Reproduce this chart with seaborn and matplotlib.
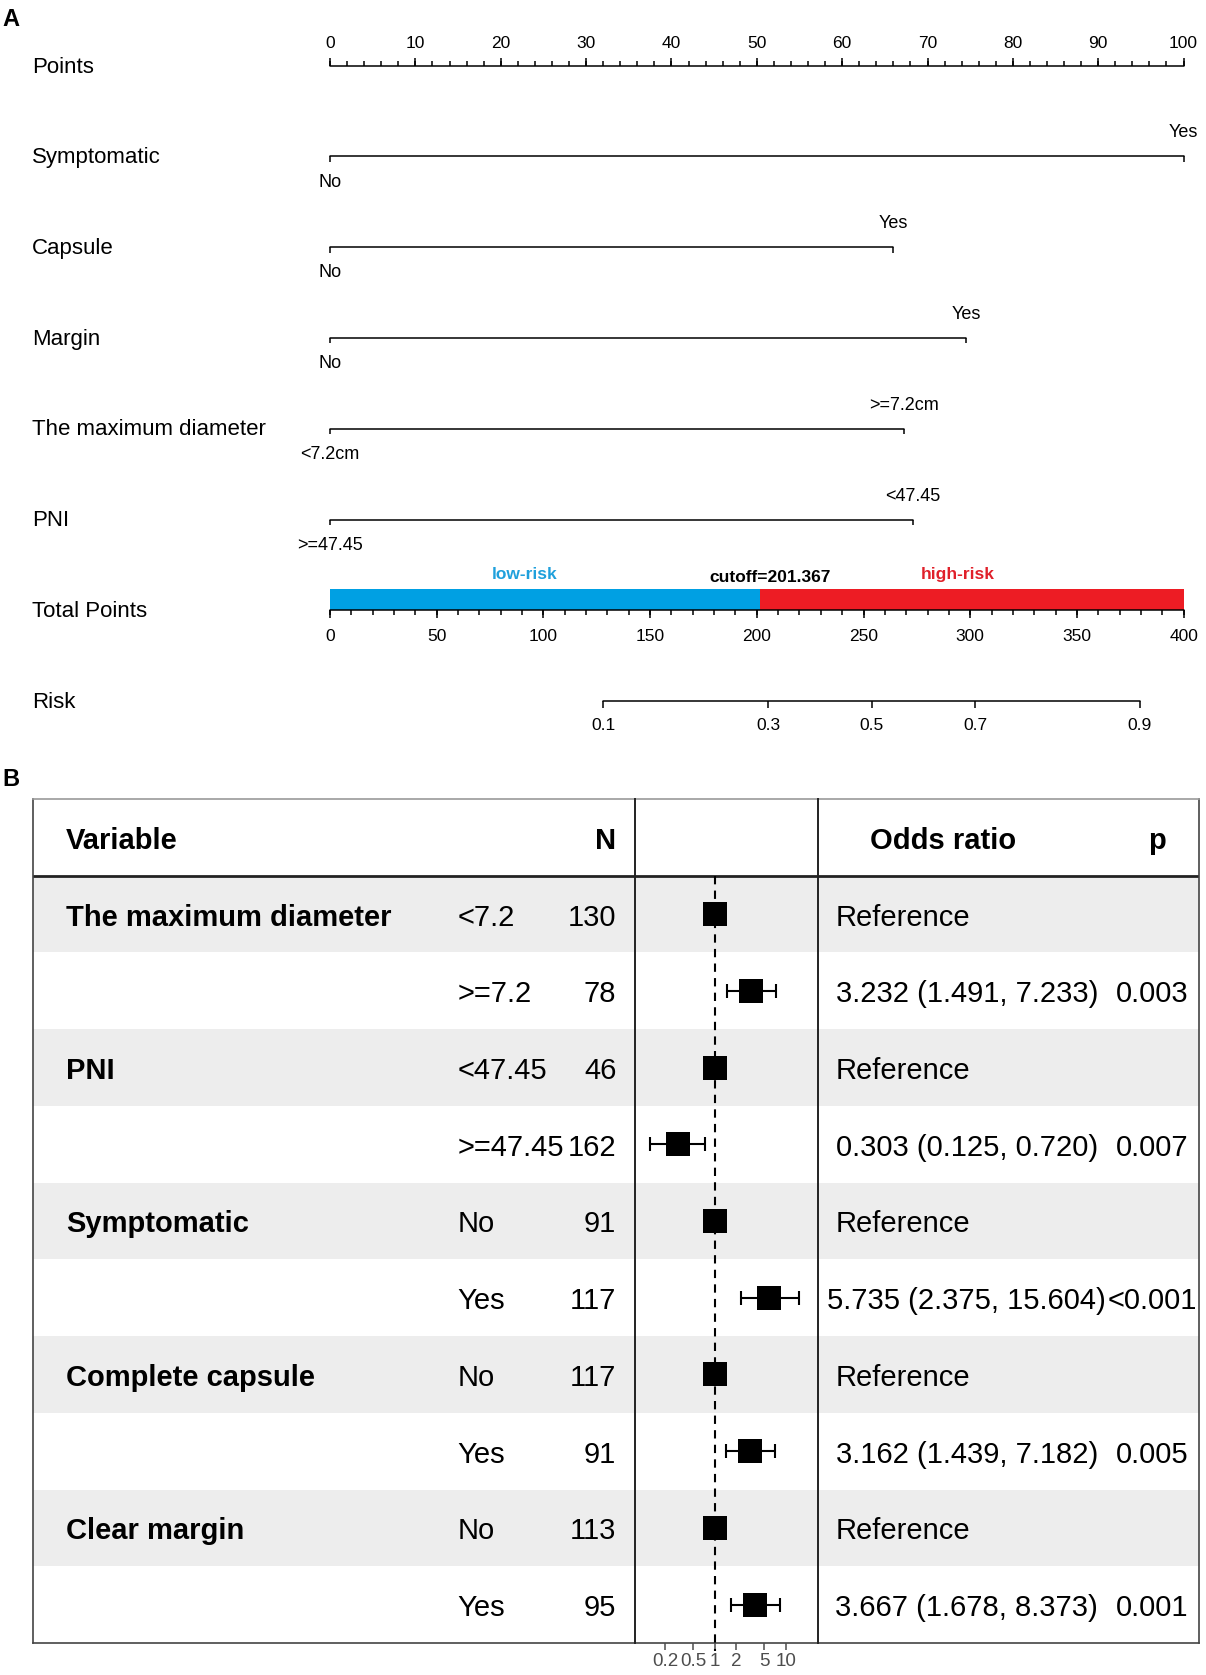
"""
Nomogram (A) + forest plot of odds ratios (B)
"""

import numpy as np
import matplotlib
matplotlib.use("Agg")
import matplotlib.pyplot as plt
import seaborn as sns

sns.set_theme(style="white")
plt.rcParams["font.family"] = ["Liberation Sans", "DejaVu Sans"]
plt.rcParams["text.color"] = "black"

# ─────────────────────────────────────────────────────────────────────────────
# Data
# ─────────────────────────────────────────────────────────────────────────────

# nomogram
nomo_vars = ["Symptomatic", "Capsule", "Margin", "The maximum diameter", "PNI"]
nomo_points = [100, 66, 74.5, 67.3, 68.3]
nomo_low = ["No", "No", "No", "<7.2cm", ">=47.45"]
nomo_high = ["Yes", "Yes", "Yes", ">=7.2cm", "<47.45"]
points_ticks = list(range(0, 101, 10))
total_ticks = list(range(0, 401, 50))
cutoff = 201.367
risk_ticks = [0.1, 0.3, 0.5, 0.7, 0.9]
risk_mid = 253.8     # total points where risk = 0.5
risk_slope = 57.2    # total points per logit unit

# forest plot
fp_group = ["The maximum diameter", "", "PNI", "", "Symptomatic", "",
            "Complete capsule", "", "Clear margin", ""]
fp_level = ["<7.2", ">=7.2", "<47.45", ">=47.45", "No", "Yes", "No", "Yes", "No", "Yes"]
fp_n = [130, 78, 46, 162, 91, 117, 117, 91, 113, 95]
fp_or = [1, 3.232, 1, 0.303, 1, 5.735, 1, 3.162, 1, 3.667]
fp_lo = [np.nan, 1.491, np.nan, 0.125, np.nan, 2.375, np.nan, 1.439, np.nan, 1.678]
fp_hi = [np.nan, 7.233, np.nan, 0.720, np.nan, 15.604, np.nan, 7.182, np.nan, 8.373]
fp_p = ["", "0.003", "", "0.007", "", "<0.001", "", "0.005", "", "0.001"]
or_ticks = [0.2, 0.5, 1, 2, 5, 10]

# ─────────────────────────────────────────────────────────────────────────────
# Layout helpers (reference grid 1129 x 1568)
# ─────────────────────────────────────────────────────────────────────────────

W, H = 1129, 1568


def box(x0, y0, x1, y1):
    return [x0 / W, 1 - y1 / H, (x1 - x0) / W, (y1 - y0) / H]


fig = plt.figure(figsize=(12.06, 16.75), dpi=100)

# ─────────────────────────────────────────────────────────────────────────────
# Panel A — nomogram
# ─────────────────────────────────────────────────────────────────────────────

PX_X = 7.99       # px per point
ROW = 85.0        # px per row
X0, Y0 = 309, 61.5
axA = fig.add_axes(box(0, 0, W, 700))
axA.set_xlim(-X0 / PX_X, (W - X0) / PX_X)
axA.set_ylim((700 - Y0) / ROW, -Y0 / ROW)
axA.axis("off")
px = 1 / ROW
LW = 1.1
lab_x = (30 - X0) / PX_X
FS_LAB, FS_TICK, FS_LVL = 16, 12.5, 13

# Points scale
axA.plot([0, 100], [0, 0], color="black", lw=LW)
axA.vlines(points_ticks, 0, -7 * px, color="black", lw=LW)
axA.vlines(np.arange(0, 101, 2), 0, -4 * px, color="black", lw=LW)
for t in points_ticks:
    axA.text(t, -21 * px, str(t), ha="center", va="center", fontsize=FS_TICK)
axA.text(lab_x, 1.5 * px, "Points", ha="left", va="center", fontsize=FS_LAB)

# variable scales
for i, (name, pts, lo, hi) in enumerate(zip(nomo_vars, nomo_points, nomo_low, nomo_high)):
    r = i + 1
    axA.plot([0, pts], [r, r], color="black", lw=LW)
    axA.vlines([0, pts], r, r + 5 * px, color="black", lw=LW)
    axA.text(0, r + 24 * px, lo, ha="center", va="center", fontsize=FS_LVL)
    axA.text(pts, r - 22 * px, hi, ha="center", va="center", fontsize=FS_LVL)
    axA.text(lab_x, r + 1 * px, name, ha="left", va="center", fontsize=FS_LAB)

# Total points with risk bar
r = 6
axA.barh(r - 10 * px, cutoff / 4, left=0, height=20 * px, color="#00A0E3", lw=0)
axA.barh(r - 10 * px, (400 - cutoff) / 4, left=cutoff / 4, height=20 * px,
         color="#ED1C24", lw=0)
axA.plot([0, 100], [r, r], color="black", lw=LW)
axA.vlines(np.array(total_ticks) / 4, r, r + 7 * px, color="black", lw=LW)
axA.vlines(np.arange(0, 401, 10) / 4, r, r + 4 * px, color="black", lw=LW)
for t in total_ticks:
    axA.text(t / 4, r + 24 * px, str(t), ha="center", va="center", fontsize=FS_TICK)
axA.text(91 / 4, r - 34 * px, "low-risk", ha="center", va="center",
         fontsize=12.5, fontweight="bold", color="#1FA0DC")
axA.text(206 / 4, r - 31 * px, f"cutoff={cutoff}", ha="center", va="center",
         fontsize=12.5, fontweight="bold", color="black")
axA.text(294 / 4, r - 34 * px, "high-risk", ha="center", va="center",
         fontsize=12.5, fontweight="bold", color="#E0202A")
axA.text(lab_x, r + 1 * px, "Total Points", ha="left", va="center", fontsize=FS_LAB)

# Risk scale
r = 7
risk_x = [(risk_mid + risk_slope * np.log(p / (1 - p))) / 4 for p in risk_ticks]
axA.plot([risk_x[0], risk_x[-1]], [r, r], color="black", lw=LW)
axA.vlines(risk_x, r, r + 6 * px, color="black", lw=LW)
for p, x in zip(risk_ticks, risk_x):
    axA.text(x, r + 23 * px, f"{p:g}", ha="center", va="center", fontsize=FS_TICK)
axA.text(lab_x, r + 1 * px, "Risk", ha="left", va="center", fontsize=FS_LAB)

fig.text(10 / W, 1 - 18 / H, "A", ha="center", va="center", fontsize=17, fontweight="bold")

# ─────────────────────────────────────────────────────────────────────────────
# Panel B — forest plot table
# ─────────────────────────────────────────────────────────────────────────────

TX0, TX1 = 31, 1122
axT = fig.add_axes(box(TX0, 748, TX1, 1538))
axT.set_xlim(0, 1)
axT.set_ylim(10, -1)
axT.set_xticks([])
axT.set_yticks([])
for r in range(0, 10, 2):
    axT.axhspan(r, r + 1, color="#EDEDED", lw=0, zorder=0)
axT.axhline(0, color="#222222", lw=2)
for s in axT.spines.values():
    s.set_color("#444444")
    s.set_linewidth(1.2)
axT.spines["top"].set_color("#999999")


def fx(x):
    return (x - TX0) / (TX1 - TX0)


FS_T = 21
DY = 0.045   # nudge text to sit optically centred in each row
hdr = dict(va="center", fontsize=FS_T, fontweight="bold")
axT.text(fx(62), -0.5 + DY, "Variable", ha="left", **hdr)
axT.text(fx(577), -0.5 + DY, "N", ha="right", **hdr)
axT.text(fx(814), -0.5 + DY, "Odds ratio", ha="left", **hdr)
axT.text(fx(1075), -0.5 + DY, "p", ha="left", **hdr)

for i in range(len(fp_level)):
    y = i + 0.5 + DY
    if fp_group[i]:
        axT.text(fx(62), y, fp_group[i], ha="left", va="center",
                 fontsize=FS_T, fontweight="bold")
    axT.text(fx(428), y, fp_level[i], ha="left", va="center", fontsize=FS_T)
    axT.text(fx(577), y, str(fp_n[i]), ha="right", va="center", fontsize=FS_T)
    if np.isnan(fp_lo[i]):
        axT.text(fx(782), y, "Reference", ha="left", va="center", fontsize=FS_T)
    else:
        axT.text(fx(905), y, f"{fp_or[i]:.3f} ({fp_lo[i]:.3f}, {fp_hi[i]:.3f})",
                 ha="center", va="center", fontsize=FS_T)
        axT.text(fx(1079), y, fp_p[i], ha="center", va="center", fontsize=FS_T)

# forest column
axF = fig.add_axes(box(594, 748, 766, 1538))
axF.set_facecolor("none")
axF.set_xscale("log")
axF.set_xlim(0.0745, 28.7)
axF.set_ylim(10, -1)
axF.set_yticks([])
axF.vlines(1, 0, 10.1, color="black", lw=1.5, linestyles=(0, (4, 3)), clip_on=False)

rows = np.arange(len(fp_or)) + 0.5
or_arr = np.array(fp_or)
lo_arr = np.array(fp_lo)
hi_arr = np.array(fp_hi)
ok = ~np.isnan(lo_arr)
axF.errorbar(or_arr[ok], rows[ok],
             xerr=[or_arr[ok] - lo_arr[ok], hi_arr[ok] - or_arr[ok]],
             fmt="none", ecolor="black", elinewidth=1.5, capsize=5, capthick=1.5)
sns.scatterplot(x=fp_or, y=rows, marker="s", s=290, color="black",
                linewidth=0, ax=axF, zorder=3)

axF.set_xticks(or_ticks)
axF.set_xticklabels([f"{t:g}" for t in or_ticks])
axF.minorticks_off()
axF.tick_params(axis="x", bottom=True, direction="out", length=5, width=1.1,
                color="#4D4D4D", labelcolor="#4D4D4D", labelsize=13.5, pad=2)
axF.spines["top"].set_visible(False)
axF.spines["bottom"].set_visible(False)
for s in ("left", "right"):
    axF.spines[s].set_color("#222222")
    axF.spines[s].set_linewidth(1.4)
axF.set_xlabel("")
axF.set_ylabel("")

fig.text(10 / W, 1 - 730 / H, "B", ha="center", va="center", fontsize=17, fontweight="bold")

plt.savefig("out.png", dpi=100)
